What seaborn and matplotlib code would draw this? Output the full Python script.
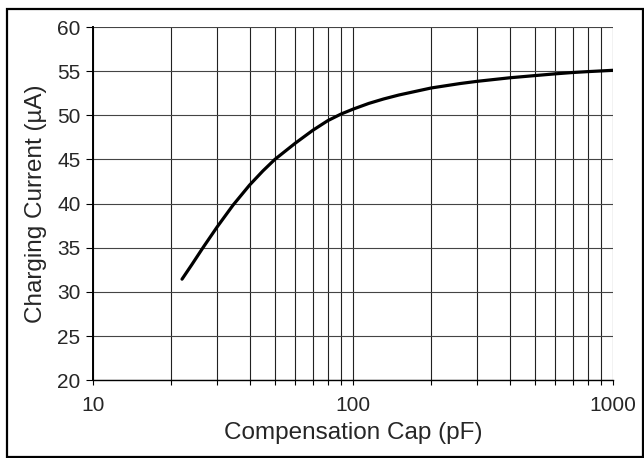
import matplotlib
matplotlib.use("Agg")
import matplotlib.pyplot as plt
import seaborn as sns
import pandas as pd
from matplotlib.patches import Rectangle
from matplotlib.ticker import LogLocator, NullFormatter, FixedLocator, FixedFormatter

sns.set_style("white")
plt.rcParams["font.family"] = ["Liberation Sans", "DejaVu Sans"]

# compensation cap (pF) vs charging current (uA)
cap_pf = [22, 24, 26.6, 30, 34.6, 40, 45, 50, 60, 70, 80, 90, 100, 115, 131, 150, 200,
          258, 300, 400, 500, 600, 700, 800, 1000]
current_ua = [31.45, 33.1, 35.1, 37.35, 39.85, 42.1, 43.7, 45.0, 46.85, 48.3, 49.4, 50.15,
              50.7, 51.35, 51.85, 52.3, 53.1, 53.6, 53.85, 54.25, 54.5, 54.7, 54.85,
              54.95, 55.1]
x_ticks = [10, 100, 1000]
x_ticklabels = ["10", "100", "1000"]
y_ticks = [20, 25, 30, 35, 40, 45, 50, 55, 60]

df = pd.DataFrame({"cap": cap_pf, "current": current_ua})

fig = plt.figure(figsize=(6.44, 4.58), dpi=100)
ax = fig.add_axes([0.1444, 0.1697, 0.8075, 0.7713])

sns.lineplot(data=df, x="cap", y="current", ax=ax, color="black", linewidth=2.3,
             zorder=5, sort=False)

ax.set_xscale("log")
ax.set_xlim(10, 1000)
ax.set_ylim(20, 60)
ax.xaxis.set_major_locator(FixedLocator(x_ticks))
ax.xaxis.set_major_formatter(FixedFormatter(x_ticklabels))
ax.xaxis.set_minor_locator(LogLocator(base=10, subs=range(2, 10)))
ax.xaxis.set_minor_formatter(NullFormatter())
ax.set_yticks(y_ticks)

# grid on every major and minor x position, every 5 uA
ax.grid(True, which="major", axis="x", color="#222222", linewidth=0.8)
ax.grid(True, which="minor", axis="x", color="#222222", linewidth=0.8)
ax.grid(True, which="major", axis="y", color="#444444", linewidth=0.8)

for side in ["top", "right"]:
    ax.spines[side].set_visible(False)
ax.spines["left"].set_color("black")
ax.spines["left"].set_linewidth(1.4)
ax.spines["bottom"].set_color("black")
ax.spines["bottom"].set_linewidth(1.0)

ax.tick_params(axis="y", which="major", direction="out", length=5, width=0.8,
               color="black", left=True, labelsize=15, pad=4)
ax.tick_params(axis="x", which="both", direction="out", length=3.5, width=0.8,
               color="black", bottom=True, labelsize=15, pad=8)

ax.set_xlabel("Compensation Cap (pF)", fontsize=17.5, labelpad=5)
ax.set_ylabel("Charging Current (µA)", fontsize=17.5, labelpad=7)

# outer frame round the whole figure
fig.patches.append(Rectangle((0.011, 0.003), 0.988, 0.977, transform=fig.transFigure,
                             fill=False, edgecolor="black", linewidth=1.6))

fig.savefig("out.png", dpi=100)
